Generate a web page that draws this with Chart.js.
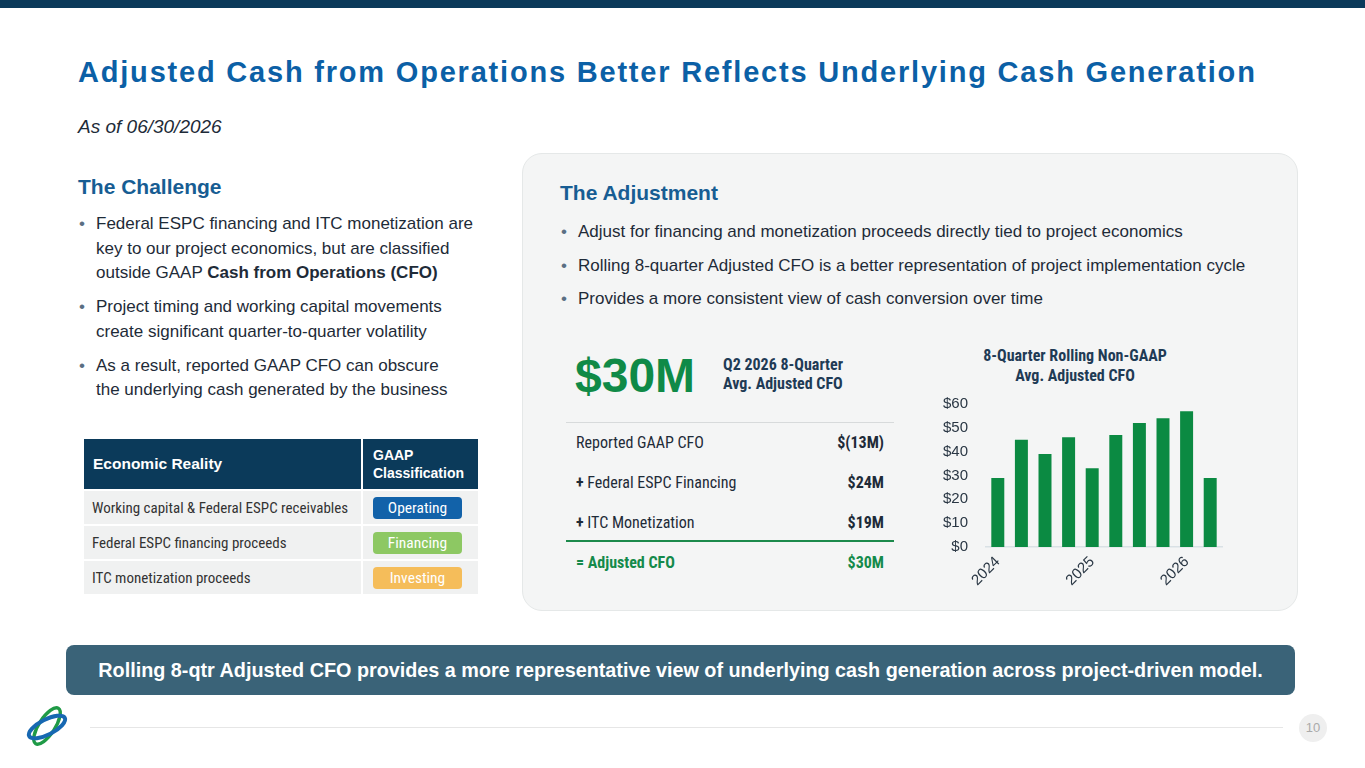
<!DOCTYPE html>
<html>
<head>
<meta charset="utf-8">
<script src="https://cdn.jsdelivr.net/npm/chart.js@4.4.1/dist/chart.umd.min.js"></script>
<style>
  html,body{margin:0;padding:0;}
  body{width:1365px;height:768px;position:relative;background:#fff;font-family:"Liberation Sans",Arial,sans-serif;color:#1e2b38;overflow:hidden;}
  .abs{position:absolute;}
  .topbar{left:0;top:0;width:1365px;height:8px;background:#0b3a5a;}
  .title{left:78px;top:56px;font-size:29px;font-weight:bold;color:#0b60a6;letter-spacing:1.8px;white-space:nowrap;}
  .asof{left:78px;top:116px;font-size:19px;font-style:italic;color:#1e2b38;}
  .h2{font-size:21px;font-weight:bold;color:#175d93;}
  ul.bl{margin:0;padding:0;list-style:none;}
  ul.bl li{position:relative;padding-left:18px;}
  ul.bl li:before{content:"•";position:absolute;left:1px;top:0;color:#5a6f83;}
  .chal{left:78px;top:212px;width:420px;font-size:17px;line-height:24.5px;color:#1e2b38;white-space:nowrap;}
  .chal li{margin-bottom:9.5px;}
  .narrow{font-family:"Liberation Sans Narrow","Arial Narrow","Roboto Condensed","Liberation Sans",sans-serif;}
  table.er{left:84px;top:439px;width:394px;border-collapse:collapse;}
  table.er th{background:#0b3a5a;color:#fff;font-weight:bold;text-align:left;font-size:15.5px;height:50px;padding:0 0 0 9px;font-family:"Liberation Sans",Arial,sans-serif;}
  table.er th.c2{border-left:2px solid #fff;line-height:18px;padding-left:10px;font-size:14px;}
  table.er td{background:#f0f1f1;font-size:15px;color:#333;height:33px;padding:0 0 0 8px;border-top:2px solid #fff;}
  table.er td.c2{border-left:2px solid #fff;padding:0 0 0 10px;}
  .pill{display:inline-block;width:89px;height:22px;line-height:22px;border-radius:4px;text-align:center;color:#fff;font-size:15.5px;}
  .panel{left:522px;top:153px;width:776px;height:458px;background:#f4f5f5;border:1px solid #e5e8e8;border-radius:20px;box-sizing:border-box;}
  .adj{left:560px;top:181px;}
  .adjb{left:560px;top:221px;width:720px;font-size:17px;line-height:22px;color:#1e2b38;white-space:nowrap;}
  .adjb li{margin-bottom:11.5px;}
  .big{left:575px;top:348px;font-size:48px;font-weight:bold;color:#0f8a47;letter-spacing:0px;}
  .sub{left:723px;top:355px;font-size:16px;font-weight:bold;line-height:19px;color:#1f3b55;}
  .rowl{left:576px;font-size:16px;color:#1e2b38;}
  .rowr{right:481px;font-size:16px;font-weight:bold;color:#1e2b38;text-align:right;}
  .ctitle{left:935px;top:346px;width:280px;text-align:center;font-size:16px;font-weight:bold;line-height:20px;color:#1f3b55;}
  .banner{left:66px;top:645px;width:1229px;height:50px;background:#3a6378;border-radius:8px;color:#fff;font-weight:bold;font-size:19.8px;text-align:center;line-height:50px;white-space:nowrap;}
  .fline{left:90px;top:727px;width:1193px;height:1px;background:#e6e6e6;}
  .pg{left:1299px;top:714px;width:28px;height:28px;border-radius:14px;background:#efefef;color:#aaa;font-size:13px;text-align:center;line-height:28px;}
  #chartBox{left:940px;top:377px;width:300px;height:220px;}
  #chartBox canvas{display:block;}
</style>
</head>
<body>
<div class="abs topbar"></div>
<div class="abs title">Adjusted Cash from Operations Better Reflects Underlying Cash Generation</div>
<div class="abs asof">As of 06/30/2026</div>

<div class="abs h2" style="left:78px;top:175px;">The Challenge</div>
<ul class="abs bl chal">
  <li>Federal ESPC financing and ITC monetization are<br>key to our project economics, but are classified<br>outside GAAP <b>Cash from Operations (CFO)</b></li>
  <li>Project timing and working capital movements<br>create significant quarter-to-quarter volatility</li>
  <li>As a result, reported GAAP CFO can obscure<br>the underlying cash generated by the business</li>
</ul>

<table class="abs er narrow">
  <tr><th style="width:268px;">Economic Reality</th><th class="c2">GAAP<br>Classification</th></tr>
  <tr><td>Working capital &amp; Federal ESPC receivables</td><td class="c2"><span class="pill" style="background:#1262a9;">Operating</span></td></tr>
  <tr><td>Federal ESPC financing proceeds</td><td class="c2"><span class="pill" style="background:#8dc863;">Financing</span></td></tr>
  <tr><td>ITC monetization proceeds</td><td class="c2"><span class="pill" style="background:#f5bd5a;">Investing</span></td></tr>
</table>

<div class="abs panel"></div>
<div class="abs h2 adj">The Adjustment</div>
<ul class="abs bl adjb">
  <li>Adjust for financing and monetization proceeds directly tied to project economics</li>
  <li>Rolling 8-quarter Adjusted CFO is a better representation of project implementation cycle</li>
  <li>Provides a more consistent view of cash conversion over time</li>
</ul>

<div class="abs big">$30M</div>
<div class="abs sub narrow">Q2 2026 8-Quarter<br>Avg. Adjusted CFO</div>
<div class="abs" style="left:566px;top:422px;width:328px;height:1px;background:#d7dadb;"></div>
<div id="bridge"></div>
<div class="abs" style="left:566px;top:540px;width:328px;height:2px;background:#1c8a4c;"></div>

<div class="abs ctitle narrow">8-Quarter Rolling Non-GAAP<br>Avg. Adjusted CFO</div>
<div class="abs" id="chartBox"><canvas id="c"></canvas></div>

<div class="abs banner">Rolling 8-qtr Adjusted CFO provides a more representative view of underlying cash generation across project-driven model.</div>

<svg class="abs" style="left:20px;top:700px;" width="54" height="54" viewBox="0 0 54 54">
  <ellipse cx="27" cy="26" rx="8" ry="21" transform="rotate(33 27 26)" fill="none" stroke="#1f9a46" stroke-width="3.4"/>
  <ellipse cx="27" cy="27" rx="20" ry="7.5" transform="rotate(-27 27 27)" fill="none" stroke="#1768b2" stroke-width="4"/>
</svg>
<div class="abs fline"></div>
<div class="abs pg">10</div>

<script>
// Bridge table
const bridgeLabels = ['Reported GAAP CFO', '+ Federal ESPC Financing', '+ ITC Monetization', '= Adjusted CFO'];
const bridgeValues = ['$(13M)', '$24M', '$19M', '$30M'];
const bridgeRowY = [433, 473, 513, 553];

// Chart data
const quarterLabels = ['2024', '', '', '', '2025', '', '', '', '2026', ''];
const adjustedCfo = [29, 45, 39, 46, 33, 47, 52, 54, 57, 29];
const yMin = 0, yMax = 60, yStep = 10;

const bridge = document.getElementById('bridge');
bridgeLabels.forEach((lab, i) => {
  const last = i === bridgeLabels.length - 1;
  const l = document.createElement('div');
  l.className = 'abs rowl narrow';
  l.style.top = bridgeRowY[i] + 'px';
  if (last) { l.style.color = '#148a4b'; l.style.fontWeight = 'bold'; }
  if (lab.startsWith('+ ')) { l.innerHTML = '<b>+</b> ' + lab.slice(2); } else { l.textContent = lab; }
  const r = document.createElement('div');
  r.className = 'abs rowr narrow';
  r.style.top = bridgeRowY[i] + 'px';
  if (last) r.style.color = '#148a4b';
  r.textContent = bridgeValues[i];
  bridge.appendChild(l); bridge.appendChild(r);
});

new Chart(document.getElementById('c'), {
  type: 'bar',
  data: {
    labels: quarterLabels,
    datasets: [{
      data: adjustedCfo,
      backgroundColor: '#0b8a42',
      categoryPercentage: 1.0,
      barPercentage: 0.55
    }]
  },
  options: {
    responsive: true,
    maintainAspectRatio: false,
    animation: false,
    layout: { autoPadding: false, padding: { top: 12, right: 18, left: 3, bottom: 0 } },
    plugins: { legend: { display: false }, title: { display: false }, tooltip: { enabled: false } },
    scales: {
      x: {
        afterFit: s => { s.height = 50; },
        grid: { display: false, drawTicks: false },
        border: { display: true, color: '#d9e1e5', width: 1.5 },
        ticks: {
          autoSkip: false, minRotation: 45, maxRotation: 45,
          color: '#2a3744', font: { family: 'Liberation Sans', size: 15 }, padding: 6
        }
      },
      y: {
        min: yMin, max: yMax,
        afterFit: s => { s.width = 43; },
        grid: { display: false, drawTicks: false },
        border: { display: false },
        ticks: {
          stepSize: yStep,
          color: '#2a3744', font: { family: 'Liberation Sans', size: 15 }, padding: 18,
          callback: v => '$' + v
        }
      }
    }
  }
});
</script>
</body>
</html>
